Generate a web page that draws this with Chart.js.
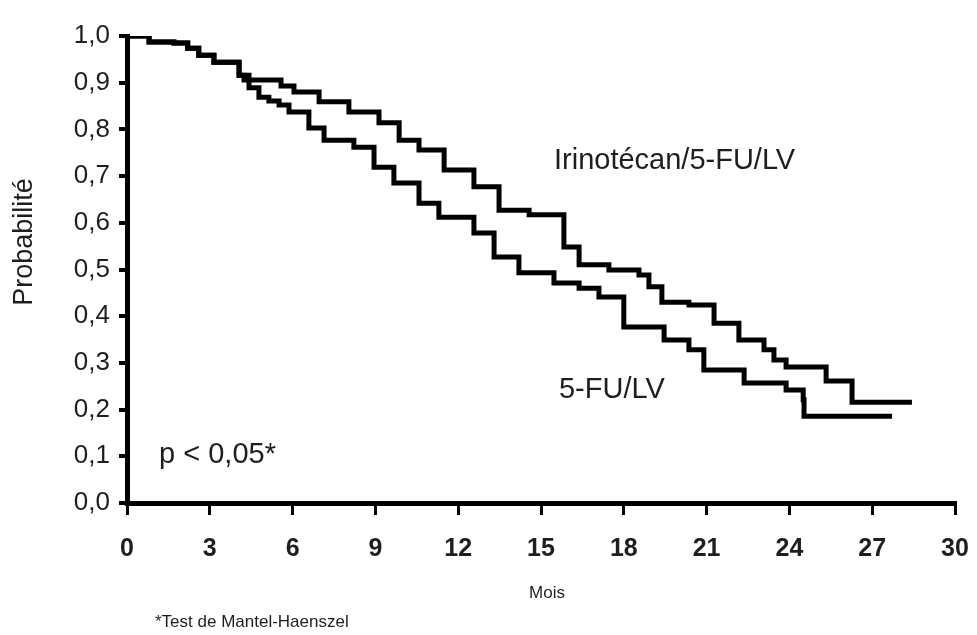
<!DOCTYPE html>
<html>
<head>
<meta charset="utf-8">
<script src="https://cdn.jsdelivr.net/npm/chart.js@4.4.0/dist/chart.umd.min.js"></script>
<style>
  html, body { margin: 0; padding: 0; background: #fff; }
  canvas { display: block; }
</style>
</head>
<body>
<canvas id="kmChart" width="977" height="635"></canvas>
<script>
// Kaplan-Meier curves (month, survival)
const irinoMonths = [0, 0.8, 1.7, 2.2, 2.6, 3.15, 4.06, 4.24, 5.58, 6.05, 6.96, 8.04, 9.13, 9.86, 10.58, 11.49, 12.57, 13.48, 14.57, 15.83, 16.38, 17.46, 18.55, 18.91, 19.38, 20.36, 21.27, 22.17, 23.08, 23.44, 23.88, 25.33, 26.27, 28.44];
const irinoSurv   = [1.0, 0.987, 0.985, 0.974, 0.959, 0.944, 0.916, 0.906, 0.893, 0.880, 0.859, 0.837, 0.814, 0.777, 0.756, 0.713, 0.677, 0.627, 0.617, 0.548, 0.510, 0.499, 0.488, 0.463, 0.430, 0.424, 0.385, 0.349, 0.328, 0.306, 0.291, 0.261, 0.216, 0.216];

const fuMonths = [0, 0.8, 1.7, 2.2, 2.6, 3.15, 4.06, 4.42, 4.78, 5.14, 5.51, 5.87, 6.59, 7.14, 8.22, 8.95, 9.67, 10.58, 11.30, 12.57, 13.30, 14.2, 15.47, 16.38, 17.1, 18.0, 19.46, 20.36, 20.9, 22.36, 23.88, 24.5, 24.53, 27.72];
const fuSurv   = [1.0, 0.987, 0.985, 0.974, 0.959, 0.944, 0.916, 0.889, 0.869, 0.861, 0.852, 0.837, 0.803, 0.777, 0.762, 0.719, 0.685, 0.642, 0.612, 0.578, 0.527, 0.493, 0.471, 0.460, 0.441, 0.377, 0.349, 0.328, 0.285, 0.257, 0.242, 0.221, 0.186, 0.186];

const xTicks = [0, 3, 6, 9, 12, 15, 18, 21, 24, 27, 30];
const yTickLabels = ['0,0', '0,1', '0,2', '0,3', '0,4', '0,5', '0,6', '0,7', '0,8', '0,9', '1,0'];

const toPoints = (xs, ys) => xs.map((x, i) => ({ x: x, y: ys[i] }));

const textColor = '#1e1e1e';
const plainFont = '"Liberation Sans", Arial, sans-serif';

// free text on the plot (curve labels, p value, titles, footnote)
const textPlugin = {
    id: 'kmTexts',
    afterDraw(chart) {
        const ctx = chart.ctx;
        const xs = chart.scales.x;
        const ys = chart.scales.y;
        ctx.save();
        ctx.fillStyle = textColor;
        ctx.textBaseline = 'middle';
        ctx.textAlign = 'left';
        ctx.font = '29px ' + plainFont;
        ctx.fillText('Irinotécan/5-FU/LV', xs.getPixelForValue(15.47), ys.getPixelForValue(0.732));
        ctx.fillText('5-FU/LV', xs.getPixelForValue(15.65), ys.getPixelForValue(0.242));
        ctx.fillText('p < 0,05*', xs.getPixelForValue(1.16), ys.getPixelForValue(0.103));

        ctx.font = '17px ' + plainFont;
        ctx.textAlign = 'center';
        ctx.fillText('Mois', 547, 593);
        ctx.textAlign = 'left';
        ctx.fillText('*Test de Mantel-Haenszel', 155, 622);

        ctx.translate(25, 242);
        ctx.rotate(-Math.PI / 2);
        ctx.textAlign = 'center';
        ctx.font = '27px ' + plainFont;
        ctx.fillText('Probabilité', 0, 0);
        ctx.restore();
    }
};

const lineStyle = {
    borderColor: '#000',
    borderWidth: 5,
    pointRadius: 0,
    fill: false,
    stepped: 'before',
    borderJoinStyle: 'miter',
    borderCapStyle: 'butt'
};

new Chart(document.getElementById('kmChart'), {
    type: 'line',
    data: {
        datasets: [
            Object.assign({ label: 'Irinotécan/5-FU/LV', data: toPoints(irinoMonths, irinoSurv) }, lineStyle),
            Object.assign({ label: '5-FU/LV', data: toPoints(fuMonths, fuSurv) }, lineStyle)
        ]
    },
    options: {
        responsive: false,
        animation: false,
        layout: { padding: { top: 36, right: 22, left: 0, bottom: 0 } },
        plugins: {
            legend: { display: false },
            tooltip: { enabled: false }
        },
        scales: {
            x: {
                type: 'linear',
                min: 0,
                max: 30,
                afterFit: s => { s.height = 132; s.paddingLeft = 0; s.paddingRight = 0; },
                afterBuildTicks: s => { s.ticks = xTicks.map(v => ({ value: v })); },
                grid: { drawOnChartArea: false, color: '#000', lineWidth: 3, tickLength: 12 },
                border: { display: true, color: '#000', width: 5 },
                ticks: {
                    color: textColor,
                    padding: 19,
                    maxRotation: 0,
                    font: { family: '"Liberation Sans Narrow", "Arial Narrow", "Liberation Sans", sans-serif', size: 25, weight: 'bold' }
                }
            },
            y: {
                min: 0,
                max: 1,
                afterFit: s => { s.width = 127; s.paddingTop = 0; s.paddingBottom = 0; },
                ticks: {
                    stepSize: 0.1,
                    color: textColor,
                    padding: 9,
                    font: { family: plainFont, size: 26 },
                    callback: (v, i) => yTickLabels[i]
                },
                grid: { drawOnChartArea: false, color: '#000', lineWidth: 4, tickLength: 8 },
                border: { display: true, color: '#000', width: 5 }
            }
        }
    },
    plugins: [textPlugin]
});
</script>
</body>
</html>
